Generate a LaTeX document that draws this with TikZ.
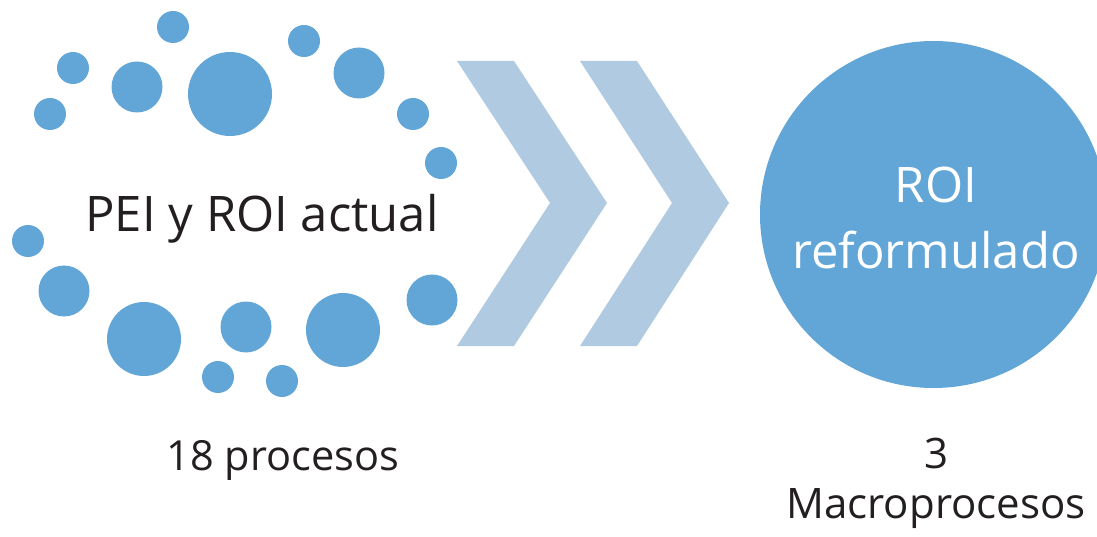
\documentclass[tikz,border=0pt]{standalone}
\usepackage{fontspec}
\setmainfont{Open Sans}
\definecolor{dotblue}{RGB}{98,166,216}
\definecolor{chevblue}{RGB}{176,202,225}
\definecolor{txt}{RGB}{35,31,32}
\begin{document}
\begin{tikzpicture}[x=1pt,y=-1pt,
  dot/.style={circle,fill=dotblue,inner sep=0pt,minimum size=#1},
  chev/.style={fill=chevblue,draw=none},
  lbl/.style={text=txt,inner sep=0pt,align=center}]
\useasboundingbox (0,0) rectangle (1097,537);
% dots
\node[dot=32pt] (c1) at (173,27) {};
\node[dot=32pt] (c2) at (73,68) {};
\node[dot=51pt] (c3) at (137,87) {};
\node[dot=84pt] (c4) at (230,94) {};
\node[dot=32pt] (c5) at (304,41) {};
\node[dot=51pt] (c6) at (359,73) {};
\node[dot=32pt] (c7) at (50,114) {};
\node[dot=32pt] (c8) at (413,114) {};
\node[dot=32pt] (c9) at (441,163) {};
\node[dot=32pt] (c10) at (28,241) {};
\node[dot=51pt] (c11) at (64,291) {};
\node[dot=74pt] (c12) at (144,339) {};
\node[dot=51pt] (c13) at (246,327) {};
\node[dot=32pt] (c14) at (218,377) {};
\node[dot=32pt] (c15) at (282,381) {};
\node[dot=74pt] (c16) at (343,330) {};
\node[dot=51pt] (c17) at (432,300) {};
% chevrons
\fill[chev] (457,61) -- (514,61) -- (607,203) -- (514,346) -- (457,346) -- (550,203) -- cycle;
\fill[chev] (580,61) -- (637,61) -- (729,203) -- (637,346) -- (580,346) -- (672,203) -- cycle;
% big circle
\begin{scope}
\clip (0,0) rectangle (1097,537);
\fill[dotblue] (933.5,214.5) circle[radius=173.5];
\end{scope}
\node[inner sep=0pt] (big) at (933.5,214.5) {};
% texts
\node[lbl,anchor=base,font=\fontsize{49}{60}\selectfont] (t1) at (262,232) {PEI y ROI actual};
\node[lbl,text=white,anchor=base,font=\fontsize{49}{66}\selectfont] (t2) at (936,203) {ROI};
\node[lbl,text=white,anchor=base,font=\fontsize{49}{66}\selectfont] (t3) at (936,269) {reformulado};
\node[lbl,anchor=base,font=\fontsize{41.5}{48}\selectfont] (t4) at (283,470) {18 procesos};
\node[lbl,anchor=base,font=\fontsize{42}{48}\selectfont] (t5) at (936,468) {3};
\node[lbl,anchor=base,font=\fontsize{42}{48}\selectfont] (t6) at (936,518) {Macroprocesos};
\end{tikzpicture}
\end{document}
